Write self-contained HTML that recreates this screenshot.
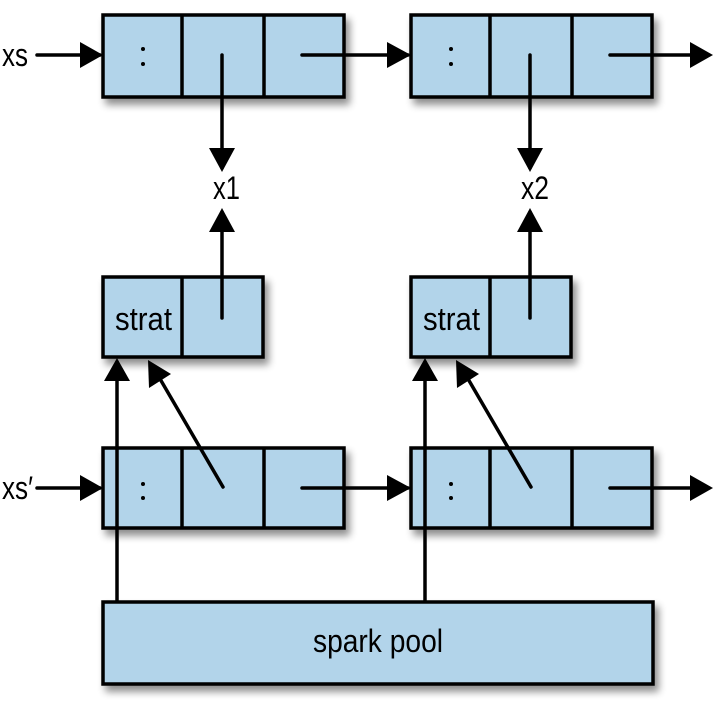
<!DOCTYPE html>
<html><head><style>body{margin:0;background:#fff}</style></head><body>
<svg width="716" height="713" xmlns="http://www.w3.org/2000/svg" font-family="Liberation Sans, sans-serif">
<defs>
<filter id="sh" x="-10%" y="-10%" width="130%" height="140%"><feGaussianBlur in="SourceAlpha" stdDeviation="4"/><feOffset dx="4" dy="6"/><feComponentTransfer><feFuncA type="linear" slope="0.45"/></feComponentTransfer><feMerge><feMergeNode/><feMergeNode in="SourceGraphic"/></feMerge></filter>
</defs>
<g fill="#b2d4ea" stroke="#000" stroke-width="3.5" filter="url(#sh)">
<rect x="103" y="15" width="241" height="82"/>
<rect x="411" y="15" width="241" height="82"/>
<rect x="103" y="277" width="160" height="80"/>
<rect x="411" y="277" width="160" height="80"/>
<rect x="103" y="448" width="241" height="80"/>
<rect x="411" y="448" width="241" height="80"/>
<rect x="103" y="602" width="550" height="82"/>
</g>
<g stroke="#000" stroke-width="3.5" fill="none">
<path d="M182,15V97M264,15V97M490,15V97M572,15V97M182,277V357M490,277V357M182,448V528M264,448V528M490,448V528M572,448V528"/>
</g>
<g stroke="#000" stroke-width="3.5" fill="none" stroke-linecap="round">
<path d="M222,55V168" />
<path d="M530,55V168"/>
<path d="M222,318V212"/>
<path d="M530,318V212"/>
<path d="M37,55H100"/>
<path d="M37,488H100"/>
<path d="M302,55H408"/>
<path d="M610,55H703"/>
<path d="M302,488H408"/>
<path d="M610,488H703"/>
<path d="M117,601V362"/>
<path d="M425,601V362"/>
<path d="M223,487L156,372"/>
<path d="M531,487L464,372"/>
</g>
<g fill="#000">
<path d="M209,148L235,148L222,172z"/>
<path d="M517,148L543,148L530,172z"/>
<path d="M209,232L235,232L222,208z"/>
<path d="M517,232L543,232L530,208z"/>
<path d="M80,42L80,68L103,55z"/>
<path d="M80,475L80,501L103,488z"/>
<path d="M387,42L387,68L411,55z"/>
<path d="M387,475L387,501L411,488z"/>
<path d="M690,42L690,68L713,55z"/>
<path d="M690,475L690,501L713,488z"/>
<path d="M104,381L130,381L117,358z"/>
<path d="M412,381L438,381L425,358z"/>
<path d="M148,360L171,374L149,388z"/>
<path d="M456,360L479,374L457,388z"/>
<circle cx="143" cy="49" r="2"/><circle cx="143" cy="64" r="2"/>
<circle cx="451" cy="49" r="2"/><circle cx="451" cy="64" r="2"/>
<circle cx="143" cy="484" r="2"/><circle cx="143" cy="498" r="2"/>
<circle cx="451" cy="484" r="2"/><circle cx="451" cy="498" r="2"/>
</g>
<g font-size="32" fill="#000">
<text x="2" y="66" textLength="26" lengthAdjust="spacingAndGlyphs">xs</text>
<text x="2" y="499" textLength="31" lengthAdjust="spacingAndGlyphs">xs′</text>
<text x="213" y="199" textLength="27" lengthAdjust="spacingAndGlyphs">x1</text>
<text x="521" y="199" textLength="28" lengthAdjust="spacingAndGlyphs">x2</text>
<text x="115" y="330" textLength="57" lengthAdjust="spacingAndGlyphs">strat</text>
<text x="423" y="330" textLength="57" lengthAdjust="spacingAndGlyphs">strat</text>
<text x="313" y="652" textLength="130" lengthAdjust="spacingAndGlyphs">spark pool</text>
</g>
</svg>
</body></html>
